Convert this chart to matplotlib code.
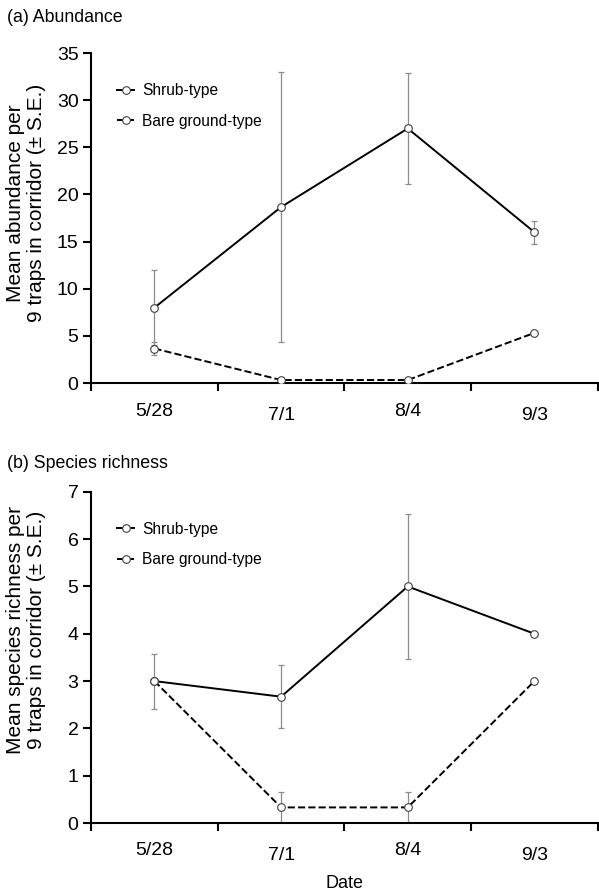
"""Abundance and species richness per corridor type, two stacked panels."""

import matplotlib
matplotlib.use("Agg")
import matplotlib.pyplot as plt
import matplotlib.transforms as mtransforms
import numpy as np

plt.rcParams["font.family"] = ["Liberation Sans", "DejaVu Sans"]

# ─── Data ─────────────────────────────────────────────────────────────
dates = ["5/28", "7/1", "8/4", "9/3"]

abund_shrub = [8.0, 18.67, 27.0, 16.0]
abund_shrub_se = [4.0, 14.3, 5.9, 1.2]
abund_bare = [3.67, 0.33, 0.33, 5.33]
abund_bare_se = [0.67, 0.0, 0.0, 0.0]

rich_shrub = [3.0, 2.67, 5.0, 4.0]
rich_shrub_se = [0.58, 0.67, 1.53, 0.0]
rich_bare = [3.0, 0.33, 0.33, 3.0]
rich_bare_se = [0.0, 0.33, 0.33, 0.0]

# ─── Style ────────────────────────────────────────────────────────────
FIGSIZE = (5.99, 8.91)
DPI = 100
ERR_COLOR = "#8c8c8c"
TICK_FS = 14
LABEL_FS = 15
TITLE_FS = 12.8
LEGEND_FS = 11.2


def draw_panel(ax, shrub, shrub_se, bare, bare_se, ymax, ylabel, label_y,
               title, title_y):
    x = np.arange(1, len(dates) + 1)
    for vals, se, ls, lab in [(shrub, shrub_se, "-", "Shrub-type"),
                              (bare, bare_se, "--", "Bare ground-type")]:
        ax.errorbar(x, vals, yerr=se, fmt="none", ecolor=ERR_COLOR,
                    elinewidth=0.9, capsize=2.5, capthick=0.9, zorder=2)
        ax.plot(x, vals, linestyle=ls, color="black", linewidth=1.4,
                marker="o", markersize=5.5, markerfacecolor="white",
                markeredgecolor="#404040", markeredgewidth=0.8,
                label=lab, zorder=3)

    ax.set_xlim(0.5, len(dates) + 0.5)
    ax.set_ylim(0, ymax)
    ax.set_xticks(np.arange(0.5, len(dates) + 1))
    ax.set_xticklabels([])
    ax.set_xticks(x, minor=True)
    ax.set_xticklabels(dates, minor=True)
    ax.tick_params(axis="x", which="minor", length=0, pad=14, labelsize=TICK_FS)
    ax.tick_params(axis="x", which="major", length=6, width=1.5, direction="out")
    ax.tick_params(axis="y", length=6, width=1.5, direction="out",
                   labelsize=TICK_FS, pad=3)

    # alternate labels sit a little lower, as in the original
    offset = mtransforms.ScaledTranslation(0, -3 / 72, ax.figure.dpi_scale_trans)
    for i, lbl in enumerate(ax.get_xticklabels(minor=True)):
        if i % 2 == 1:
            lbl.set_transform(lbl.get_transform() + offset)

    for side in ["top", "right"]:
        ax.spines[side].set_visible(False)
    for side in ["left", "bottom"]:
        ax.spines[side].set_linewidth(1.5)

    ax.set_ylabel(ylabel, fontsize=LABEL_FS, linespacing=1.1)
    ax.yaxis.set_label_coords(-0.089, label_y)
    ax.legend(loc="upper left", bbox_to_anchor=(0.039, 0.928), frameon=False,
              fontsize=LEGEND_FS, handlelength=1.1, handletextpad=0.5,
              labelspacing=1.0, borderaxespad=0)
    ax.figure.text(0.012, title_y, title, fontsize=TITLE_FS, ha="left", va="center")


def main():
    fig = plt.figure(figsize=FIGSIZE, dpi=DPI)
    ax_a = fig.add_axes([0.152, 0.570, 0.846, 0.3705])
    ax_b = fig.add_axes([0.152, 0.0763, 0.846, 0.3717])

    draw_panel(ax_a, abund_shrub, abund_shrub_se, abund_bare, abund_bare_se,
               35, "Mean abundance per\n9 traps in corridor (± S.E.)", 0.545,
               "(a) Abundance", 1 - 18 / 891)
    ax_a.set_yticks(np.arange(0, 36, 5))

    draw_panel(ax_b, rich_shrub, rich_shrub_se, rich_bare, rich_bare_se,
               7, "Mean species richness per\n9 traps in corridor (± S.E.)", 0.583,
               "(b) Species richness", 1 - 464 / 891)
    ax_b.set_yticks(np.arange(0, 8, 1))
    ax_b.set_xlabel("Date", fontsize=13, labelpad=8)

    fig.savefig("out.png", dpi=DPI, facecolor="white")
    plt.close(fig)


if __name__ == "__main__":
    main()
